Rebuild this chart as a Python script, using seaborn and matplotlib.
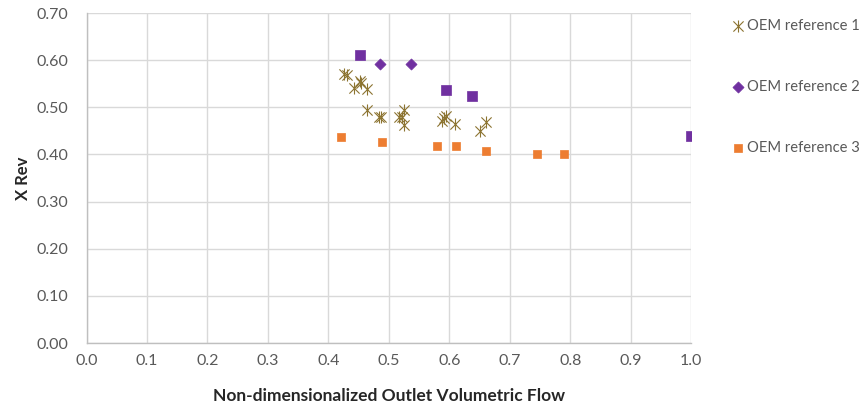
import numpy as np
import pandas as pd
import matplotlib
matplotlib.use("Agg")
import matplotlib.pyplot as plt
from matplotlib.path import Path
import seaborn as sns

# OEM reference 1
ref1_flow = [0.425, 0.431, 0.452, 0.454, 0.442, 0.463, 0.463, 0.483, 0.487, 0.516,
             0.521, 0.525, 0.525, 0.588, 0.591, 0.595, 0.610, 0.660, 0.650]
ref1_xrev = [0.571, 0.569, 0.555, 0.551, 0.541, 0.539, 0.495, 0.480, 0.479, 0.479,
             0.479, 0.495, 0.463, 0.470, 0.477, 0.481, 0.465, 0.468, 0.449]

# OEM reference 2 (diamond points and square points)
ref2_flow = [0.486, 0.536]
ref2_xrev = [0.591, 0.591]
ref2_sq_flow = [0.452, 0.595, 0.637, 0.999]
ref2_sq_xrev = [0.610, 0.536, 0.524, 0.440]

# OEM reference 3
ref3_flow = [0.420, 0.488, 0.579, 0.611, 0.661, 0.745, 0.789]
ref3_xrev = [0.438, 0.426, 0.418, 0.418, 0.408, 0.400, 0.400]

series_names = ["OEM reference 1", "OEM reference 2", "OEM reference 3"]
x_ticks = np.round(np.arange(0, 1.01, 0.1), 1)
y_ticks = np.round(np.arange(0, 0.701, 0.1), 2)

gold = "#8C7431"
purple = "#7030A0"
orange = "#ED7D31"
text_gray = "#595959"

sns.set_theme(style="white")
plt.rcParams["font.family"] = ["Lato", "DejaVu Sans"]

# asterisk marker: vertical stroke plus an X
star = Path(
    [(0, -1), (0, 1), (-0.85, -0.85), (0.85, 0.85), (-0.85, 0.85), (0.85, -0.85)],
    [Path.MOVETO, Path.LINETO, Path.MOVETO, Path.LINETO, Path.MOVETO, Path.LINETO],
)

fig = plt.figure(figsize=(8.67, 4.07), dpi=100)
ax = fig.add_axes([0.0998, 0.157, 0.6975, 0.811])

sns.scatterplot(x=ref1_flow, y=ref1_xrev, marker=star, s=75, color=gold,
                edgecolor=gold, linewidth=0.8, ax=ax, label=series_names[0], zorder=3)
sns.scatterplot(x=ref2_flow, y=ref2_xrev, marker="D", s=32, color=purple,
                edgecolor=purple, linewidth=0.5, ax=ax, label=series_names[1], zorder=3)
sns.scatterplot(x=ref2_sq_flow, y=ref2_sq_xrev, marker="s", s=55, color=purple,
                edgecolor=purple, linewidth=0.5, ax=ax, label="_nolegend_", zorder=3)
sns.scatterplot(x=ref3_flow, y=ref3_xrev, marker="s", s=36, color=orange,
                edgecolor=orange, linewidth=0.5, ax=ax, label=series_names[2], zorder=3)

ax.set_xlim(0, 1.0)
ax.set_ylim(0, 0.70)
ax.set_xticks(x_ticks)
ax.set_yticks(y_ticks)
ax.set_xticklabels([f"{v:.1f}" for v in x_ticks])
ax.set_yticklabels([f"{v:.2f}" for v in y_ticks])
ax.tick_params(axis="both", length=0, labelsize=11.5, colors=text_gray)
ax.tick_params(axis="y", pad=13)
ax.tick_params(axis="x", pad=8)

ax.grid(True, color="#D9D9D9", linewidth=1.0, zorder=0)
ax.set_axisbelow(True)
for side in ["top", "right"]:
    ax.spines[side].set_visible(False)
for side in ["left", "bottom"]:
    ax.spines[side].set_color("#BFBFBF")
    ax.spines[side].set_linewidth(1.0)

ax.set_xlabel("Non-dimensionalized Outlet Volumetric Flow", fontsize=12.5,
              fontweight="bold", color="#262626", labelpad=14)
ax.set_ylabel("X Rev", fontsize=12, fontweight="bold", color="#262626", labelpad=4)

leg = ax.legend(loc="upper left", bbox_to_anchor=(0.834, 0.972),
                bbox_transform=fig.transFigure, frameon=False, fontsize=10.6,
                labelspacing=3.2, handletextpad=0.1, handlelength=1.0,
                borderpad=0, markerscale=1.0)
for t in leg.get_texts():
    t.set_color(text_gray)

fig.savefig("out.png", dpi=100)
